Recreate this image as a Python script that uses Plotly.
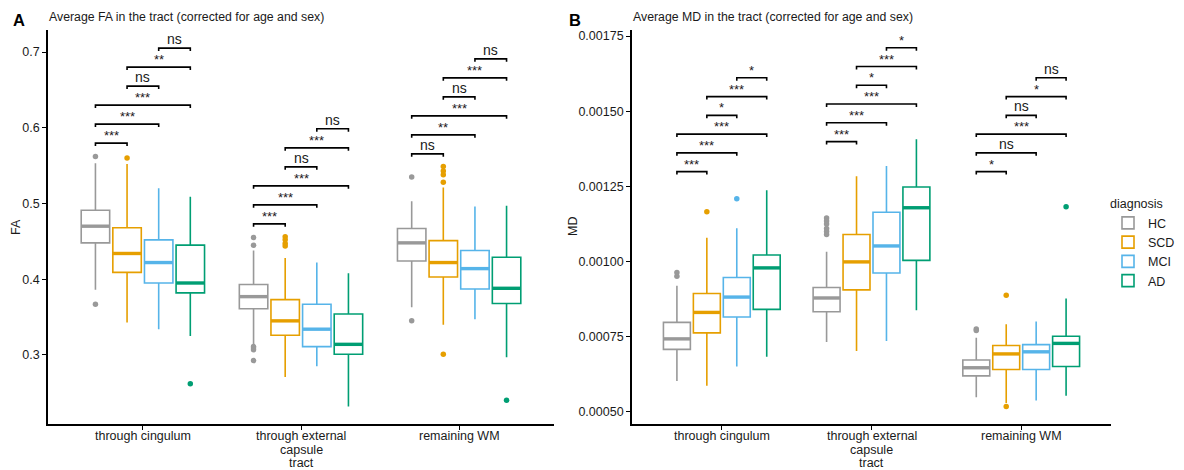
import plotly.graph_objects as go

# ---- data -------------------------------------------------------------
groups = ["HC", "SCD", "MCI", "AD"]
colors = ["#999999", "#E69F00", "#56B4E9", "#009E73"]
tracts = ["through cingulum", "through external\ncapsule", "remaining WM"]

# FA box statistics, one value per tract
fa_q1 = {"HC": [0.448, 0.361, 0.424], "SCD": [0.409, 0.326, 0.403],
         "MCI": [0.395, 0.311, 0.387], "AD": [0.382, 0.301, 0.368]}
fa_median = {"HC": [0.470, 0.377, 0.448], "SCD": [0.434, 0.345, 0.422],
             "MCI": [0.422, 0.334, 0.414], "AD": [0.395, 0.314, 0.388]}
fa_q3 = {"HC": [0.491, 0.393, 0.467], "SCD": [0.468, 0.373, 0.451],
         "MCI": [0.452, 0.367, 0.438], "AD": [0.445, 0.354, 0.429]}
fa_low = {"HC": [0.386, 0.314, 0.363], "SCD": [0.343, 0.271, 0.340],
          "MCI": [0.334, 0.285, 0.347], "AD": [0.325, 0.232, 0.297]}
fa_high = {"HC": [0.553, 0.438, 0.503], "SCD": [0.552, 0.428, 0.521],
           "MCI": [0.520, 0.422, 0.496], "AD": [0.509, 0.408, 0.497]}
fa_outliers = {
    "HC": [[0.562, 0.367], [0.455, 0.445, 0.311, 0.309, 0.307, 0.2925], [0.535, 0.345]],
    "SCD": [[0.560], [0.456, 0.452, 0.447, 0.444], [0.549, 0.543, 0.538, 0.528, 0.301]],
    "MCI": [[], [], []],
    "AD": [[0.262], [], [0.240]],
}

# MD box statistics, one value per tract
md_q1 = {"HC": [0.000708, 0.000833, 0.000620], "SCD": [0.000763, 0.000906, 0.000641],
         "MCI": [0.000816, 0.000962, 0.000641], "AD": [0.000841, 0.001004, 0.000651]}
md_median = {"HC": [0.000743, 0.000879, 0.000647], "SCD": [0.000831, 0.000999, 0.000693],
             "MCI": [0.000882, 0.001052, 0.000700], "AD": [0.000979, 0.001179, 0.000728]}
md_q3 = {"HC": [0.000798, 0.000914, 0.000673], "SCD": [0.000894, 0.001090, 0.000721],
         "MCI": [0.000947, 0.001164, 0.000724], "AD": [0.001022, 0.001248, 0.000752]}
md_low = {"HC": [0.000603, 0.000733, 0.000549], "SCD": [0.000587, 0.000703, 0.000530],
          "MCI": [0.000651, 0.000736, 0.000538], "AD": [0.000684, 0.000838, 0.000554]}
md_high = {"HC": [0.000920, 0.001033, 0.000747], "SCD": [0.001079, 0.001284, 0.000792],
           "MCI": [0.001111, 0.001318, 0.000801], "AD": [0.001237, 0.001407, 0.000877]}
md_outliers = {
    "HC": [[0.000964, 0.000951], [0.001145, 0.001135, 0.001125, 0.00111, 0.00110, 0.00109],
           [0.000776, 0.000771]],
    "SCD": [[0.001166], [], [0.000888, 0.000518]],
    "MCI": [[0.001209], [], []],
    "AD": [[], [], [0.001182]],
}

# pairwise comparisons and their significance labels per tract
comparisons = [("HC", "SCD"), ("HC", "MCI"), ("HC", "AD"),
               ("SCD", "MCI"), ("SCD", "AD"), ("MCI", "AD")]
fa_signif = [["***", "***", "***", "ns", "**", "ns"],
             ["***", "***", "***", "ns", "***", "ns"],
             ["ns", "**", "***", "ns", "***", "ns"]]
md_signif = [["***", "***", "***", "*", "***", "*"],
             ["***", "***", "***", "*", "***", "*"],
             ["*", "ns", "***", "ns", "*", "ns"]]
fa_bracket_base = [0.5797, 0.4731, 0.5655]
fa_bracket_step = 0.0251
md_bracket_base = [0.001299, 0.001399, 0.001299]
md_bracket_step = 0.0000624

# ---- layout constants ------------------------------------------------
W, H = 1184, 470
FONT = "Liberation Sans, Arial, sans-serif"
TXT = "#1a1a1a"
offsets = {"HC": -0.3, "SCD": -0.1, "MCI": 0.1, "AD": 0.3}
BOX_W = 0.18
fa_range = [0.2088, 0.7291]
md_range = [0.00046, 0.00177]


def px_x(p):
    return p / W


def px_y(p):
    return 1 - p / H


fig = go.Figure()


def add_panel(xref, yref, q1, med, q3, lo, hi, outl, signif, base, step, yrange, legend):
    for g, c in zip(groups, colors):
        xs = [i + 1 + offsets[g] for i in range(len(tracts))]
        fig.add_trace(go.Box(
            x=xs, q1=q1[g], median=med[g], q3=q3[g],
            lowerfence=lo[g], upperfence=hi[g],
            width=BOX_W, whiskerwidth=0, boxpoints=False,
            fillcolor="white", line=dict(color=c, width=1.6),
            name=g, legendgroup=g, showlegend=legend,
            xaxis=xref, yaxis=yref, hoverinfo="skip",
        ))
        # thick median bars
        mx, my = [], []
        for x, m in zip(xs, med[g]):
            mx += [x - BOX_W / 2, x + BOX_W / 2, None]
            my += [m, m, None]
        fig.add_trace(go.Scatter(x=mx, y=my, mode="lines",
                                 line=dict(color=c, width=3.4),
                                 showlegend=False, hoverinfo="skip",
                                 xaxis=xref, yaxis=yref))
        ox, oy = [], []
        for x, pts in zip(xs, outl[g]):
            ox += [x] * len(pts)
            oy += pts
        if ox:
            fig.add_trace(go.Scatter(x=ox, y=oy, mode="markers",
                                     marker=dict(color=c, size=5.5),
                                     showlegend=False, hoverinfo="skip",
                                     xaxis=xref, yaxis=yref))
    # significance brackets
    tip = 0.0075 * (yrange[1] - yrange[0])
    bx, by = [], []
    for t in range(len(tracts)):
        for k, (a, b) in enumerate(comparisons):
            x1 = t + 1 + offsets[a]
            x2 = t + 1 + offsets[b]
            yb = base[t] + k * step
            bx += [x1, x1, x2, x2, None]
            by += [yb - tip, yb, yb, yb - tip, None]
            lab = signif[t][k]
            fig.add_annotation(
                x=(x1 + x2) / 2, y=yb, xref=xref, yref=yref,
                text=lab, showarrow=False, yanchor="bottom",
                yshift=-2 if lab != "ns" else -1,
                font=dict(family=FONT, size=14 if lab == "ns" else 13, color=TXT),
            )
    fig.add_trace(go.Scatter(x=bx, y=by, mode="lines",
                             line=dict(color="black", width=1.6),
                             showlegend=False, hoverinfo="skip",
                             xaxis=xref, yaxis=yref))
    # category labels under the axis, one line per annotation
    for t, name in enumerate(tracts):
        for j, line in enumerate(name.split("\n")):
            fig.add_annotation(x=t + 1, y=px_y(436 + 13.5 * j), xref=xref, yref="paper",
                               text=line, showarrow=False, xanchor="center", yanchor="middle",
                               font=dict(family=FONT, size=12.5, color=TXT))


add_panel("x", "y", fa_q1, fa_median, fa_q3, fa_low, fa_high, fa_outliers,
          fa_signif, fa_bracket_base, fa_bracket_step, fa_range, True)
add_panel("x2", "y2", md_q1, md_median, md_q3, md_low, md_high, md_outliers,
          md_signif, md_bracket_base, md_bracket_step, md_range, False)

axis_style = dict(showline=True, linecolor="black", linewidth=1.8,
                  ticks="outside", ticklen=4, tickwidth=1.2, tickcolor="black",
                  tickfont=dict(family=FONT, size=12.5, color=TXT),
                  showgrid=False, zeroline=False, fixedrange=True)

ydom = [46 / H, 440 / H]
fig.update_layout(
    width=W, height=H,
    margin=dict(l=0, r=0, t=0, b=0),
    paper_bgcolor="white", plot_bgcolor="white",
    font=dict(family=FONT, color=TXT),
    xaxis=dict(domain=[px_x(48), px_x(554)], range=[0.4, 3.6], anchor="y",
               tickvals=[1, 2, 3], showticklabels=False, **axis_style),
    yaxis=dict(domain=ydom, range=fa_range, anchor="x",
               tickvals=[0.3, 0.4, 0.5, 0.6, 0.7],
               ticktext=["0.3", "0.4", "0.5", "0.6", "0.7"], **axis_style),
    xaxis2=dict(domain=[px_x(632), px_x(1111)], range=[0.4, 3.6], anchor="y2",
                tickvals=[1, 2, 3], showticklabels=False, **axis_style),
    yaxis2=dict(domain=ydom, range=md_range, anchor="x2",
                tickvals=[0.0005, 0.00075, 0.001, 0.00125, 0.0015, 0.00175],
                ticktext=["0.00050", "0.00075", "0.00100", "0.00125", "0.00150", "0.00175"],
                **axis_style),
    legend=dict(x=px_x(1108), y=px_y(192), xanchor="left", yanchor="top",
                title=dict(text="diagnosis", font=dict(family=FONT, size=12.5, color=TXT)),
                font=dict(family=FONT, size=12.5, color=TXT),
                tracegroupgap=0, bgcolor="rgba(0,0,0,0)"),
)

annots = [
    dict(text="<b>A</b>", x=px_x(11), y=px_y(20.5), size=16.5, xanchor="left"),
    dict(text="Average FA in the tract (corrected for age and sex)", x=px_x(47),
         y=px_y(17), size=12.3, xanchor="left"),
    dict(text="<b>B</b>", x=px_x(567), y=px_y(20.5), size=16.5, xanchor="left"),
    dict(text="Average MD in the tract (corrected for age and sex)", x=px_x(631),
         y=px_y(17), size=12.3, xanchor="left"),
    dict(text="tract", x=px_x(301), y=px_y(463), size=12.5, xanchor="center"),
    dict(text="tract", x=px_x(871.5), y=px_y(463), size=12.5, xanchor="center"),
]
for a in annots:
    fig.add_annotation(text=a["text"], x=a["x"], y=a["y"], xref="paper", yref="paper",
                       xanchor=a["xanchor"], yanchor="middle", showarrow=False,
                       font=dict(family=FONT, size=a["size"], color="black" if "<b>" in a["text"] else TXT))
for label, xp in [("FA", 16), ("MD", 573)]:
    fig.add_annotation(text=label, x=px_x(xp), y=px_y(227), xref="paper", yref="paper",
                       textangle=-90, showarrow=False, xanchor="center", yanchor="middle",
                       font=dict(family=FONT, size=12.5, color=TXT))

fig.write_html("out.html")
